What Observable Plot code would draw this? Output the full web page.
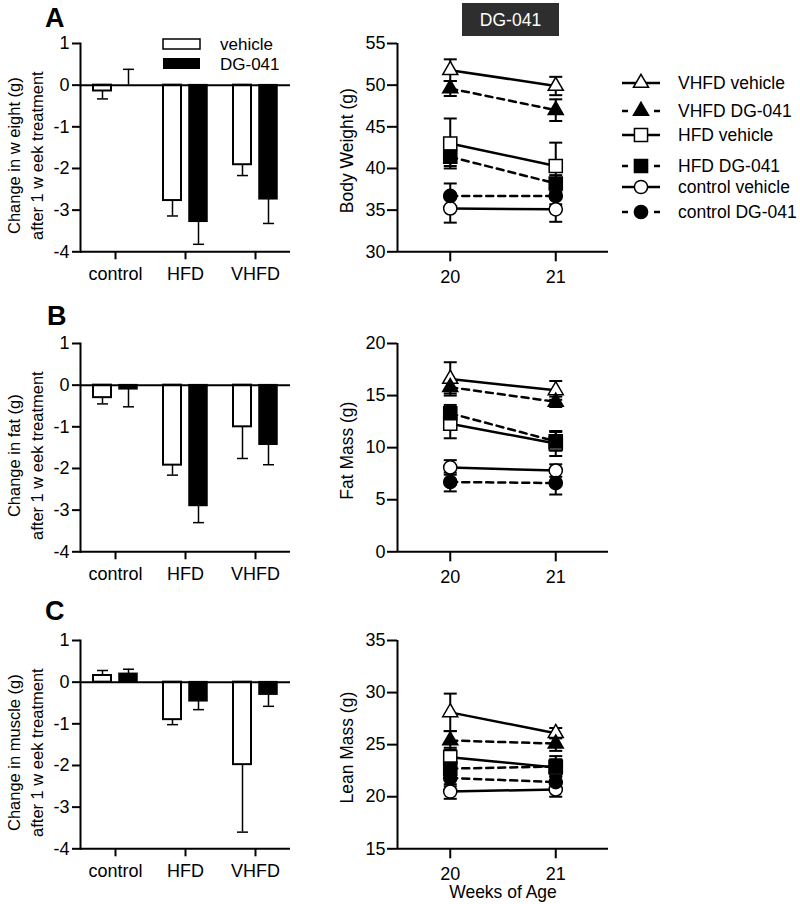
<!DOCTYPE html>
<html><head><meta charset="utf-8">
<script src="https://cdn.jsdelivr.net/npm/d3@7"></script>
<script src="https://cdn.jsdelivr.net/npm/@observablehq/plot@0.6"></script>
<style>
body{margin:0;background:#fff;}
#root{position:relative;width:800px;height:904px;overflow:hidden;background:#fff;font-family:"Liberation Sans",Arial,sans-serif;}
#root > div{position:absolute;}
#anno{position:absolute;left:0;top:0;pointer-events:none;}
</style></head><body><div id="root"></div>
<script>
const FONT = '"Liberation Sans", Arial, sans-serif';

// ---- bar panels (change after 1 week treatment) ----
const groups = ["control", "HFD", "VHFD"];
const treatments = ["vehicle", "DG-041"];
const weightVehicle = [-0.14, -2.77, -1.91];
const weightVehicleErr = [0.19, 0.37, 0.26];
const weightDG = [0.0, -3.28, -2.74];
const weightDGErr = [0.38, 0.54, 0.58];
const fatVehicle = [-0.30, -1.92, -1.00];
const fatVehicleErr = [0.15, 0.24, 0.76];
const fatDG = [-0.10, -2.90, -1.43];
const fatDGErr = [0.42, 0.40, 0.48];
const muscleVehicle = [0.16, -0.90, -1.98];
const muscleVehicleErr = [0.12, 0.12, 1.62];
const muscleDG = [0.20, -0.46, -0.30];
const muscleDGErr = [0.11, 0.20, 0.28];
const barTicks = [-4, -3, -2, -1, 0, 1];

// ---- line panels (by week of age) ----
const weeks = [20, 21];
const seriesNames = ["VHFD vehicle", "VHFD DG-041", "HFD vehicle", "HFD DG-041", "control vehicle", "control DG-041"];
const seriesGroup = ["VHFD", "VHFD", "HFD", "HFD", "control", "control"];
const seriesTrt = ["vehicle", "DG-041", "vehicle", "DG-041", "vehicle", "DG-041"];
const bodyWeightMean = [[51.8, 49.9], [49.6, 47.0], [43.0, 40.3], [41.4, 38.2], [35.2, 35.1], [36.7, 36.7]];
const bodyWeightSem  = [[1.3, 1.1], [0.9, 1.3], [3.0, 2.8], [1.1, 1.0], [1.7, 1.5], [1.5, 1.0]];
const fatMassMean = [[16.6, 15.5], [15.8, 14.4], [12.3, 10.4], [13.3, 10.6], [8.1, 7.8], [6.7, 6.6]];
const fatMassSem  = [[1.6, 0.9], [0.6, 0.5], [1.4, 1.2], [0.8, 0.9], [0.7, 0.6], [0.9, 1.1]];
const leanMassMean = [[28.1, 26.1], [25.4, 25.1], [23.8, 22.8], [22.7, 22.9], [20.5, 20.7], [21.8, 21.4]];
const leanMassSem  = [[1.8, 0.5], [0.9, 0.7], [0.9, 0.8], [1.0, 1.0], [0.7, 0.7], [0.8, 0.8]];
const bodyTicks = [30, 35, 40, 45, 50, 55];
const fatTicks = [0, 5, 10, 15, 20];
const leanTicks = [15, 20, 25, 30, 35];

const H = 208.3;
const rowTops = [43.3, 343.3, 640];
const TICKFONT = 18;

const capSym = {draw(ctx) { ctx.moveTo(-5.5, 0); ctx.lineTo(5.5, 0); }};
const capSym2 = {draw(ctx) { ctx.moveTo(-6.5, 0); ctx.lineTo(6.5, 0); }};

function barData(veh, vehErr, dg, dgErr) {
  const out = [];
  groups.forEach((g, i) => {
    out.push({group: g, trt: "vehicle", value: veh[i], end: veh[i] + (veh[i] < 0 ? -vehErr[i] : vehErr[i])});
    out.push({group: g, trt: "DG-041", value: dg[i], end: dg[i] + (dg[i] < 0 ? -dgErr[i] : dgErr[i])});
  });
  return out;
}

function barPlot(data, yLabel) {
  const veh = data.filter(d => d.trt === "vehicle");
  const dg = data.filter(d => d.trt === "DG-041");
  return Plot.plot({
    width: 300, height: 10 + H + 45,
    marginLeft: 80, marginRight: 10, marginTop: 10, marginBottom: 45,
    style: {fontSize: "17px", fontFamily: FONT, background: "transparent", color: "black", overflow: "visible"},
    x: {type: "band", domain: groups, padding: 0},
    y: {domain: [-4, 1]},
    marks: [
      Plot.ruleX(veh, {x: "group", y1: "value", y2: "end", dx: -13, strokeWidth: 1.5}),
      Plot.dot(veh, {x: "group", y: "end", dx: -13, symbol: capSym, stroke: "black", strokeWidth: 1.5}),
      Plot.ruleX(dg, {x: "group", y1: "value", y2: "end", dx: 13, strokeWidth: 1.5}),
      Plot.dot(dg, {x: "group", y: "end", dx: 13, symbol: capSym, stroke: "black", strokeWidth: 1.5}),
      Plot.barY(veh, {x: "group", y1: 0, y2: "value", insetLeft: 13, insetRight: 39, fill: "white", stroke: "black", strokeWidth: 2}),
      Plot.barY(dg, {x: "group", y1: 0, y2: "value", insetLeft: 39, insetRight: 13, fill: "black", stroke: "black", strokeWidth: 1.5}),
      Plot.ruleY([0], {strokeWidth: 2}),
      Plot.ruleY([-4], {strokeWidth: 2}),
      Plot.frame({anchor: "left", strokeWidth: 2}),
      Plot.axisY({ticks: barTicks, tickSize: 8, tickPadding: 3, tickFormat: d => String(d), label: null, strokeWidth: 2, fontSize: TICKFONT}),
      Plot.axisX({tickSize: 8, tickPadding: 7, label: null, strokeWidth: 2, fontSize: TICKFONT}),
      Plot.text([yLabel], {frameAnchor: "left", textAnchor: "middle", lineAnchor: "middle", rotate: -90, dx: -56, dy: 8, fontSize: 16.5, lineHeight: 1.4})
    ]
  });
}

function lineData(mean, sem) {
  const out = [];
  seriesNames.forEach((s, i) => weeks.forEach((w, j) => out.push({
    series: s, group: seriesGroup[i], trt: seriesTrt[i], week: w, mean: mean[i][j], sem: sem[i][j]
  })));
  return out;
}

function linePlot(data, domain, ticks, yLabel, xLabel) {
  const mb = xLabel ? 56 : 45;
  const fillOf = d => d.trt === "vehicle" ? "white" : "black";
  const marks = [
    Plot.ruleX(data, {x: "week", y1: d => d.mean - d.sem, y2: d => d.mean + d.sem, strokeWidth: 2}),
    Plot.dot(data, {x: "week", y: d => d.mean - d.sem, symbol: capSym2, stroke: "black", strokeWidth: 2}),
    Plot.dot(data, {x: "week", y: d => d.mean + d.sem, symbol: capSym2, stroke: "black", strokeWidth: 2}),
    Plot.line(data.filter(d => d.trt === "vehicle"), {x: "week", y: "mean", z: "series", strokeWidth: 2.5}),
    Plot.line(data.filter(d => d.trt === "DG-041"), {x: "week", y: "mean", z: "series", strokeWidth: 2.5, strokeDasharray: "7,5"}),
    Plot.dot(data.filter(d => d.group === "VHFD"), {x: "week", y: "mean", symbol: "triangle", r: 5.6, fill: fillOf, stroke: "black", strokeWidth: 1.5}),
    Plot.dot(data.filter(d => d.group === "HFD"), {x: "week", y: "mean", symbol: "square", r: 7.4, fill: fillOf, stroke: "black", strokeWidth: 1.5}),
    Plot.dot(data.filter(d => d.group === "control"), {x: "week", y: "mean", symbol: "circle", r: 6.6, fill: fillOf, stroke: "black", strokeWidth: 1.5}),
    Plot.ruleX([19.5], {strokeWidth: 2}),
    Plot.ruleY([domain[0]], {strokeWidth: 2}),
    Plot.axisY({ticks, tickSize: 10, tickPadding: 2, tickFormat: d => String(d), label: null, strokeWidth: 2, fontSize: TICKFONT}),
    Plot.axisX({ticks: weeks, tickSize: 10, tickPadding: 8, tickFormat: d => String(d), label: null, strokeWidth: 2, fontSize: TICKFONT}),
    Plot.text([yLabel], {frameAnchor: "left", textAnchor: "middle", lineAnchor: "middle", rotate: -90, dx: -50, dy: 3, fontSize: 17.5})
  ];
  if (xLabel) marks.push(Plot.text([xLabel], {frameAnchor: "bottom", textAnchor: "middle", lineAnchor: "middle", dy: 44, fontSize: 17.5}));
  return Plot.plot({
    width: 300, height: 10 + H + mb,
    marginLeft: 77, marginRight: 12, marginTop: 10, marginBottom: mb,
    style: {fontSize: "17px", fontFamily: FONT, background: "transparent", color: "black", overflow: "visible"},
    x: {domain: [19.5, 21.5]},
    y: {domain: [domain[0], domain[1]]},
    marks
  });
}

const root = document.getElementById("root");
function place(node, left, top) {
  const div = document.createElement("div");
  div.style.left = left + "px";
  div.style.top = top + "px";
  div.appendChild(node);
  root.appendChild(div);
}

place(barPlot(barData(weightVehicle, weightVehicleErr, weightDG, weightDGErr), "Change in w eight (g)\nafter 1 w eek treatment"), 0, rowTops[0] - 10);
place(barPlot(barData(fatVehicle, fatVehicleErr, fatDG, fatDGErr), "Change in fat (g)\nafter 1 w eek treatment"), 0, rowTops[1] - 10);
place(barPlot(barData(muscleVehicle, muscleVehicleErr, muscleDG, muscleDGErr), "Change in muscle (g)\nafter 1 w eek treatment"), 0, rowTops[2] - 10);

place(linePlot(lineData(bodyWeightMean, bodyWeightSem), [30, 55], bodyTicks, "Body Weight (g)"), 320, rowTops[0] - 10);
place(linePlot(lineData(fatMassMean, fatMassSem), [0, 20], fatTicks, "Fat Mass (g)"), 320, rowTops[1] - 10);
place(linePlot(lineData(leanMassMean, leanMassSem), [15, 35], leanTicks, "Lean Mass (g)", "Weeks of Age"), 320, rowTops[2] - 10);

// ---- annotations: panel letters, legends, treatment label ----
const svg = d3.select(root).append("svg").attr("id", "anno").attr("width", 800).attr("height", 904)
  .style("font-family", FONT);
const letters = [["A", 45, 27], ["B", 47, 325], ["C", 45, 620]];
letters.forEach(([t, x, y]) => svg.append("text").attr("x", x).attr("y", y).attr("font-size", 27).attr("font-weight", "bold").text(t));

svg.append("rect").attr("x", 462).attr("y", 3).attr("width", 97).attr("height", 33).attr("fill", "#2e2e2e");
svg.append("text").attr("x", 510.5).attr("y", 26).attr("text-anchor", "middle").attr("fill", "white").attr("font-size", 17.5).text("DG-041");

// bar legend
svg.append("rect").attr("x", 163).attr("y", 39).attr("width", 37).attr("height", 10).attr("fill", "white").attr("stroke", "black").attr("stroke-width", 1.5);
svg.append("rect").attr("x", 163).attr("y", 58).attr("width", 37).attr("height", 11).attr("fill", "black");
svg.append("text").attr("x", 220).attr("y", 50).attr("font-size", 17).text(treatments[0]);
svg.append("text").attr("x", 220).attr("y", 69.5).attr("font-size", 17).text(treatments[1]);

// line legend
const legendY = [83, 111, 135, 166, 187, 212];
const symArea = {VHFD: Math.PI * 5.6 * 5.6, HFD: Math.PI * 7.4 * 7.4, control: Math.PI * 6.6 * 6.6};
const symType = {VHFD: d3.symbolTriangle, HFD: d3.symbolSquare, control: d3.symbolCircle};
seriesNames.forEach((s, i) => {
  const y = legendY[i];
  const g = svg.append("g");
  if (seriesTrt[i] === "vehicle") {
    g.append("line").attr("x1", 622).attr("x2", 660).attr("y1", y).attr("y2", y).attr("stroke", "black").attr("stroke-width", 2.5);
  } else {
    g.append("line").attr("x1", 622).attr("x2", 628).attr("y1", y).attr("y2", y).attr("stroke", "black").attr("stroke-width", 2.5);
    g.append("line").attr("x1", 654).attr("x2", 660).attr("y1", y).attr("y2", y).attr("stroke", "black").attr("stroke-width", 2.5);
  }
  g.append("path").attr("transform", `translate(641,${y})`)
    .attr("d", d3.symbol(symType[seriesGroup[i]], symArea[seriesGroup[i]])())
    .attr("fill", seriesTrt[i] === "vehicle" ? "white" : "black").attr("stroke", "black").attr("stroke-width", 1.5);
  svg.append("text").attr("x", 678).attr("y", y + 6).attr("font-size", 17.5).text(s);
});
</script></body></html>
